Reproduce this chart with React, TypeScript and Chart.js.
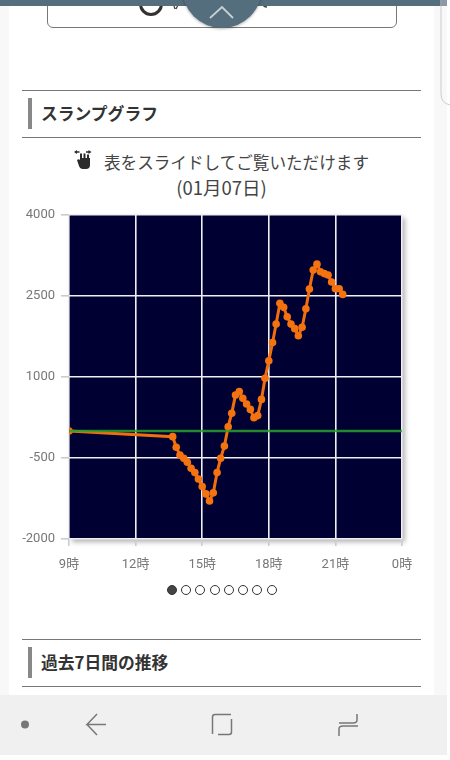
import React, { useEffect, useRef } from "react";
import { Chart, registerables } from "chart.js";

Chart.register(...registerables);

const sampleHours = [
  9, 13.67, 13.83, 14, 14.17, 14.33, 14.5, 14.67, 14.83, 15, 15.17, 15.33, 15.5, 15.67, 15.83, 16, 16.17,
  16.33, 16.5, 16.67, 16.83, 17, 17.17, 17.33, 17.5, 17.67, 17.83, 18, 18.17, 18.33, 18.5, 18.67, 18.83,
  19, 19.17, 19.33, 19.5, 19.67, 19.83, 20, 20.17, 20.33, 20.5, 20.67, 20.83, 21, 21.17, 21.33,
];
const slumpValues = [
  0, -105, -300, -445, -505, -580, -690, -770, -890, -1030, -1165, -1295, -1145, -770, -505, -280, 80,
  330, 665, 730, 605, 500, 400, 245, 285, 585, 975, 1300, 1640, 1980, 2365, 2290, 2115,
  1980, 1895, 1765, 1920, 2265, 2630, 2980, 3090, 2950, 2915, 2890, 2760, 2635, 2635, 2530,
];
const zeroHours = [9, 24];
const zeroValues = [0, 0];
const pagerDots = [172, 186, 200, 214.5, 229, 243, 257, 272];

const FONT = '"Noto Sans CJK JP", Roboto, sans-serif';
const TICK_FONT = 'Roboto, "Noto Sans CJK JP", sans-serif';

const abs = (left: number, top: number, width: number, height: number, extra: any = {}) => ({
  position: "absolute" as const,
  left,
  top,
  width,
  height,
  ...extra,
});

function SectionHeader({ top, title }: { top: number; title: string }) {
  return (
    <>
      <div style={abs(22, top, 399, 1, { background: "#777" })} />
      <div style={abs(28, top + 8, 4, 31, { background: "#888" })} />
      <div
        style={abs(41, top + 8, 300, 30, {
          font: `bold 16.8px ${FONT}`,
          color: "#333",
          lineHeight: "30px",
        })}
      >
        {title}
      </div>
      <div style={abs(22, top + 47, 399, 1, { background: "#777" })} />
    </>
  );
}

const shadowPlugin = {
  id: "plotBackground",
  beforeDraw(chart: any) {
    const { ctx, chartArea: a } = chart;
    ctx.save();
    ctx.shadowColor = "rgba(0,0,0,0.3)";
    ctx.shadowBlur = 5;
    ctx.shadowOffsetX = 3;
    ctx.shadowOffsetY = 3;
    ctx.fillStyle = "#000033";
    ctx.fillRect(a.left, a.top, a.right - a.left, a.bottom - a.top);
    ctx.restore();
  },
};

export default function App() {
  const ref = useRef<HTMLCanvasElement>(null);

  useEffect(() => {
    const chart = new Chart(ref.current!, {
      type: "line",
      data: {
        datasets: [
          {
            data: zeroHours.map((x, i) => ({ x, y: zeroValues[i] })),
            borderColor: "rgba(45,160,45,0.85)",
            borderWidth: 2.5,
            pointRadius: 0,
            order: 0,
          },
          {
            data: sampleHours.map((x, i) => ({ x, y: slumpValues[i] })),
            borderColor: "#f06e0e",
            backgroundColor: "#f4720f",
            borderWidth: 3,
            pointRadius: 3.8,
            pointBorderWidth: 0,
            tension: 0,
            order: 1,
          },
        ],
      },
      options: {
        responsive: false,
        animation: false,
        devicePixelRatio: 1,
        layout: { padding: { left: 0, right: 38, top: 15, bottom: 0 } },
        plugins: { legend: { display: false }, tooltip: { enabled: false } },
        scales: {
          x: {
            type: "linear",
            min: 9,
            max: 24,
            afterFit: (s: any) => {
              s.height = 41;
            },
            ticks: {
              stepSize: 3,
              maxRotation: 0,
              padding: 11,
              color: "#777",
              font: { size: 13, family: TICK_FONT },
              callback: (v: any) => `${Number(v) % 24}時`,
            },
            grid: { color: "#eeeef4", lineWidth: 1.6, tickColor: "#ccc", tickLength: 7 },
            border: { display: false },
          },
          y: {
            min: -2000,
            max: 4000,
            afterFit: (s: any) => {
              s.width = 69;
            },
            ticks: {
              stepSize: 1500,
              padding: 6,
              color: "#777",
              font: { size: 13, family: TICK_FONT },
              callback: (v: any) => String(v),
            },
            grid: { color: "#eeeef4", lineWidth: 1.6, tickColor: "#ccc", tickLength: 8 },
            border: { display: false },
          },
        },
      },
      plugins: [shadowPlugin],
    } as any);
    return () => chart.destroy();
  }, []);

  return (
    <div style={{ position: "fixed", left: 0, top: 0, width: 450, height: 760, background: "#fff", overflow: "hidden" }}>
      {/* page gutters and panel */}
      <div style={abs(0, 0, 9, 695, { background: "#f8f8f8" })} />
      <div style={abs(434, 0, 13, 695, { background: "#f8f8f8" })} />

      {/* top of the page: clipped box and button */}
      <div
        style={abs(47, -20, 348, 46, {
          border: "1px solid #777",
          borderRadius: 6,
          boxSizing: "content-box",
        })}
      />
      <div style={abs(139, -8, 18, 18, { border: "3px solid #333", borderRadius: "50%" })} />
      <svg style={abs(170, 0, 100, 12)} viewBox="0 0 100 12">
        <path d="M4 6 L5 9 M8 5 L6 9 M92 3 Q93 7 97 7" fill="none" stroke="#444" strokeWidth="1.3" />
      </svg>
      <div style={abs(0, 0, 442, 6, { background: "#546e7d" })} />
      <div style={abs(442, 0, 5, 6, { background: "#8a9aa4" })} />
      <div style={abs(182, -52, 80, 80, { background: "#546e7d", borderRadius: "50%", boxShadow: "0 1px 3px rgba(0,0,0,.3)" })} />
      <svg style={abs(205, 4, 34, 18)} viewBox="0 0 34 18">
        <path d="M5 14 L17 3 L28 14" fill="none" stroke="#c4d0d6" strokeWidth="1.8" />
      </svg>
      <svg style={abs(436, 0, 14, 108)} viewBox="0 0 14 108">
        <path d="M5 0 V94 Q5 103 14 105" fill="none" stroke="#ccc" strokeWidth="1" />
      </svg>

      <SectionHeader top={90} title="スランプグラフ" />

      {/* hint */}
      <svg style={abs(74, 149, 20, 21)} viewBox="0 0 20 21">
        <path d="M6 9 V4.5 h2 V9 h1.5 V4.5 h2 V9 h1.5 V5.5 h2 V9 h1 V16 Q16 20 12 20 H9 Q6 20 5 17 L3 11 Q5 9.5 6 11 Z" fill="#2b2b2b" />
        <path d="M0 3 L3 1 V2.3 H5.5 V3.7 H3 V5 Z M17.5 3 L14.5 1 V2.3 H12 V3.7 H14.5 V5 Z" fill="#2b2b2b" />
      </svg>
      <div
        style={abs(0, 150, 443, 52, {
          font: `16.6px/25px ${FONT}`,
          color: "#444",
          textAlign: "center",
        })}
      >
        <div style={{ paddingLeft: 30, whiteSpace: "nowrap" }}>表をスライドしてご覧いただけます</div>
        <div style={{ fontSize: 18.5 }}>(01月07日)</div>
      </div>

      <canvas ref={ref} width={440} height={380} style={abs(0, 200, 440, 380, { display: "block" })} />

      {/* pager */}
      {pagerDots.map((x, i) => (
        <div
          key={x}
          style={abs(x - 5, 585, 10, 10, {
            borderRadius: "50%",
            boxSizing: "border-box",
            border: "1.5px solid #333",
            background: i === 0 ? "#444" : "#fff",
          })}
        />
      ))}

      <SectionHeader top={639} title="過去7日間の推移" />

      {/* system navigation */}
      <div style={abs(0, 695, 447, 60, { background: "#f0f0f0" })} />
      <svg style={abs(0, 695, 447, 60)} viewBox="0 0 447 60">
        <circle cx="25" cy="29.5" r="4" fill="#777" />
        <path d="M97 19 L87 29.5 H106 M87 29.5 L97 40" fill="none" stroke="#777" strokeWidth="1.5" />
        <path d="M231 19.5 H215 Q212.5 19.5 212.5 22 V39 M218 39.5 H229 Q231.5 39.5 231.5 37 V24" fill="none" stroke="#777" strokeWidth="1.5" />
        <path d="M357 19 V25 Q357 28 353 28 H339 M339 41 V34 Q339 31 343 31 H358" fill="none" stroke="#777" strokeWidth="1.5" />
      </svg>
    </div>
  );
}
